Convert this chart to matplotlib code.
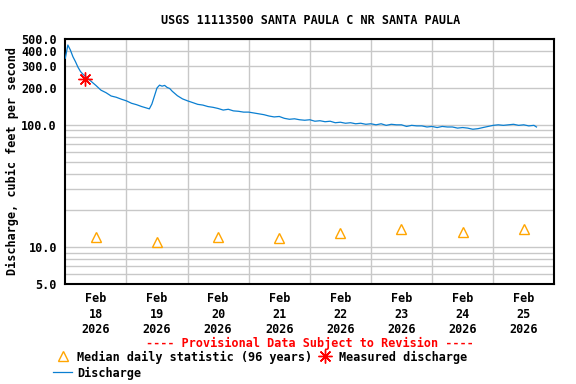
import matplotlib
matplotlib.use("Agg")
import matplotlib.pyplot as plt
from matplotlib.lines import Line2D
import datetime as dt

# ---- data ----
start = dt.datetime(2026, 2, 18, 0, 0)
discharge_hours = [0, 1, 2, 3, 4, 5, 6, 7, 8, 10, 12, 14, 16, 18, 20, 22, 24, 26, 28,
                   30, 31, 32, 33, 34, 35, 36, 37, 38, 39, 40, 41, 42, 44, 46, 48, 50,
                   52, 54, 56, 58, 60, 62, 64, 66, 68, 70, 72, 74, 76, 78, 80, 82, 84,
                   86, 88, 90, 92, 94, 96, 98, 100, 102, 104, 106, 108, 110, 112, 114,
                   116, 118, 120, 122, 124, 126, 128, 130, 132, 134, 136, 138, 140, 142,
                   144, 146, 148, 150, 152, 154, 156, 158, 160, 162, 164, 166, 168, 170,
                   172, 174, 176, 178, 180, 182, 184, 185]
discharge_cfs = [350, 449, 408, 360, 328, 295, 272, 258, 248, 228, 210, 192, 183, 172,
                 168, 162, 157, 150, 146, 141, 139, 137, 135, 148, 172, 200, 211, 207,
                 210, 202, 198, 188, 173, 163, 157, 152, 147, 145, 141, 139, 136, 132,
                 134, 130, 129, 127, 127, 125, 123, 121, 118, 116, 117, 113, 111, 112,
                 110, 109, 110, 107, 108, 106, 107, 104, 105, 103, 104, 102, 103, 101,
                 102, 100, 102, 99, 101, 100, 100, 97, 99, 98, 98, 96, 97, 95, 97, 96,
                 96, 94, 95, 94, 92, 93, 95, 97, 99, 100, 99, 100, 101, 99, 100, 98,
                 99, 96]

median_days = [18, 19, 20, 21, 22, 23, 24, 25]
median_cfs = [12.1, 11.1, 12.0, 11.9, 13.1, 14.1, 13.2, 14.2]

measured_hours = [7.7]
measured_cfs = [237]

tick_days = [18, 19, 20, 21, 22, 23, 24, 25]
ytick_labels = {5: "5.0", 10: "10.0", 100: "100.0", 200: "200.0",
                300: "300.0", 400: "400.0", 500: "500.0"}

# ---- figure ----
mono = "DejaVu Sans Mono"
fig = plt.figure(figsize=(5.76, 3.84), dpi=100)
W, H = 576, 384
ax = fig.add_axes([65.3 / W, 1 - 284 / H, (554.3 - 65.3) / W, (284 - 39.3) / H])

line_color = "#0a7fd1"
t = [start + dt.timedelta(hours=h) for h in discharge_hours]
ax.plot(t, discharge_cfs, color=line_color, lw=0.9, zorder=3)

mt = [dt.datetime(2026, 2, d, 12) for d in median_days]
ax.plot(mt, median_cfs, ls="none", marker="^", ms=7, mfc="none", mec="#ffa500",
        mew=1.0, zorder=4)

st = [start + dt.timedelta(hours=h) for h in measured_hours]
ax.plot(st, measured_cfs, ls="none", marker=(8, 2, 0), ms=10, color="red",
        mew=1.0, zorder=5)

ax.set_yscale("log")
ax.set_ylim(5, 500)
ax.set_xlim(dt.datetime(2026, 2, 18), dt.datetime(2026, 2, 26))

grid_vals = [v * m for m in (1, 10, 100) for v in range(1, 10) if 5 <= v * m <= 500]
ax.set_yticks(grid_vals)
ax.set_yticklabels([ytick_labels.get(v, "") for v in grid_vals],
                   fontfamily=mono, fontweight="bold", fontsize=8.5)
ax.yaxis.set_minor_locator(matplotlib.ticker.NullLocator())
ax.tick_params(axis="y", length=0, pad=6)

ax.set_xticks([dt.datetime(2026, 2, d) for d in range(19, 26)])
ax.set_xticklabels([])
ax.set_xticks([dt.datetime(2026, 2, d, 12) for d in tick_days], minor=True)
ax.set_xticklabels([f"Feb\n{d}\n2026" for d in tick_days], minor=True,
                   fontfamily=mono, fontweight="bold", fontsize=8.5, linespacing=1.25)
ax.tick_params(axis="x", which="both", length=0, pad=6)

ax.grid(True, which="major", color="#c8c8c8", lw=1.0, zorder=0)
ax.set_axisbelow(True)
for s in ax.spines.values():
    s.set_linewidth(1.5)
    s.set_color("black")

fig.text(311 / W, 1 - 20 / H, "USGS 11113500 SANTA PAULA C NR SANTA PAULA",
         ha="center", va="center", fontfamily=mono, fontweight="bold", fontsize=8.5)
fig.text(12 / W, 1 - 161 / H, "Discharge, cubic feet per second", rotation=90,
         ha="center", va="center", fontfamily=mono, fontweight="bold", fontsize=8.5)
fig.text(310 / W, 1 - 343 / H, "---- Provisional Data Subject to Revision ----",
         ha="center", va="center", fontfamily=mono, fontweight="bold", fontsize=8.5,
         color="red")

# legend
def fx(x):
    return x / W

def fy(y):
    return 1 - y / H

fig.add_artist(Line2D([fx(63)], [fy(356)], ls="none", marker="^", ms=7, mfc="none",
                      mec="#ffa500", mew=1.0, transform=fig.transFigure))
fig.text(fx(77), fy(357), "Median daily statistic (96 years)", ha="left", va="center",
         fontfamily=mono, fontweight="bold", fontsize=8.5)
fig.add_artist(Line2D([fx(325)], [fy(356)], ls="none", marker=(8, 2, 0), ms=10,
                      color="red", mew=1.0, transform=fig.transFigure))
fig.text(fx(339), fy(357), "Measured discharge", ha="left", va="center",
         fontfamily=mono, fontweight="bold", fontsize=8.5)
fig.add_artist(Line2D([fx(53), fx(72)], [fy(372), fy(372)], color=line_color, lw=0.9,
                      transform=fig.transFigure))
fig.text(fx(77), fy(373), "Discharge", ha="left", va="center",
         fontfamily=mono, fontweight="bold", fontsize=8.5)

fig.savefig("out.png", dpi=100)
